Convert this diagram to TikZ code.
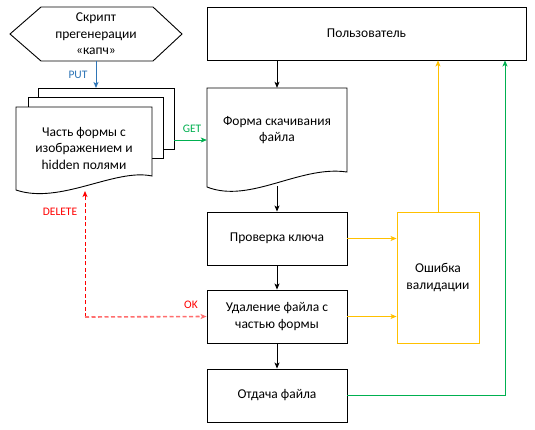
\documentclass[tikz,border=0pt]{standalone}
\usepackage{fontspec}
\setmainfont{Carlito}
\usetikzlibrary{arrows.meta,calc}
\definecolor{cblue}{RGB}{46,117,182}
\definecolor{cgreen}{RGB}{0,176,80}
\definecolor{cyel}{RGB}{255,192,0}
\definecolor{cred}{RGB}{255,0,0}
\definecolor{cpink}{RGB}{255,110,110}
\begin{document}
\begin{tikzpicture}[x=1pt,y=-1pt,
  every node/.style={font=\fontsize{13.5}{16.5}\selectfont, align=center, inner sep=0pt},
  box/.style={draw=black, line width=0.9pt, fill=white, minimum width=#1},
  box/.default=140pt,
  sheet/.style={draw=black, line width=0.9pt, fill=white},
  lbl/.style={font=\fontsize{11.5}{13}\selectfont},
  arr/.style={line width=0.9pt, -{Stealth[length=6pt,width=5pt,inset=1.5pt]}},
]
\fill[white] (0,0) rectangle (535,429);
\useasboundingbox (0,0) rectangle (535,429);

% hexagon
\node[minimum width=172pt, minimum height=54pt] (script) at (96,34) {Скрипт\\прегенерации\\«капч»};
\draw[line width=0.9pt] (10,34) -- (41,7) -- (153,7) -- (182,34) -- (153,61) -- (41,61) -- cycle;

% stacked documents
\draw[sheet] (38,88) rectangle (174,149);
\draw[sheet] (28,97) rectangle (163,158);
\draw[sheet] (16,107) -- (152,107) -- (152,176) .. controls (115,168) and (60,205) .. (16,190) -- cycle;
\node (part) at (84,148) {Часть формы с\\изображением и\\hidden полями};

% form document
\draw[sheet] (207,88) -- (347,88) -- (347,172) .. controls (300,165) and (250,204) .. (207,187) -- cycle;
\node[minimum width=140pt, minimum height=84pt] (form) at (277,130) {Форма скачивания\\файла};

% boxes
\node[box=319pt, minimum height=53pt] (user) at (366.5,33.5) {Пользователь};
\node[box, minimum height=53pt] (check) at (277,238.5) {Проверка ключа};
\node[box, minimum height=53pt] (del) at (277,316.5) {Удаление файла с\\частью формы};
\node[box, minimum height=53pt] (give) at (277,395.5) {Отдача файла};
\node[box=82pt, draw=cyel, minimum height=131pt] (err) at (438,277.5) {Ошибка\\валидации};

% coordinates
\coordinate (backtop) at (96,88);
\coordinate (getstart) at (174,140);
\coordinate (formwave) at (277,186);
\coordinate (dcorner) at (85,317);
\coordinate (dtip) at (85,191);
\coordinate (gcorner) at (505,395.5);

% connectors
\draw[arr, cblue] (script.south) -- (backtop);
\draw[arr, cgreen] (getstart) -- (getstart -| form.west);
\draw[arr] (user.south -| form.north) -- (form.north);
\draw[arr] (formwave) -- (check.north);
\draw[arr] (check) -- (del);
\draw[arr] (del) -- (give);
\draw[arr, cyel] (check.east) -- (check.east -| err.west);
\draw[arr, cyel] (del.east) -- (del.east -| err.west);
\draw[arr, cyel] (err.north) -- (err.north |- user.south);
\draw[arr, cgreen] (give.east) -- (gcorner) -- (gcorner |- user.south);
\draw[arr, cred, dash pattern=on 4pt off 2.5pt] (dcorner) -- (dtip);
\draw[arr, cpink, line width=1.6pt, dash pattern=on 4pt off 2.5pt] (dcorner) -- (del.west);

% labels
\node[lbl, text=cblue] (putl) at (78,75) {PUT};
\node[lbl, text=cgreen] (getl) at (192,129) {GET};
\node[lbl, text=cred] (dell) at (60,212) {DELETE};
\node[lbl, text=cred] (okl) at (191,305) {OK};
\end{tikzpicture}
\end{document}
